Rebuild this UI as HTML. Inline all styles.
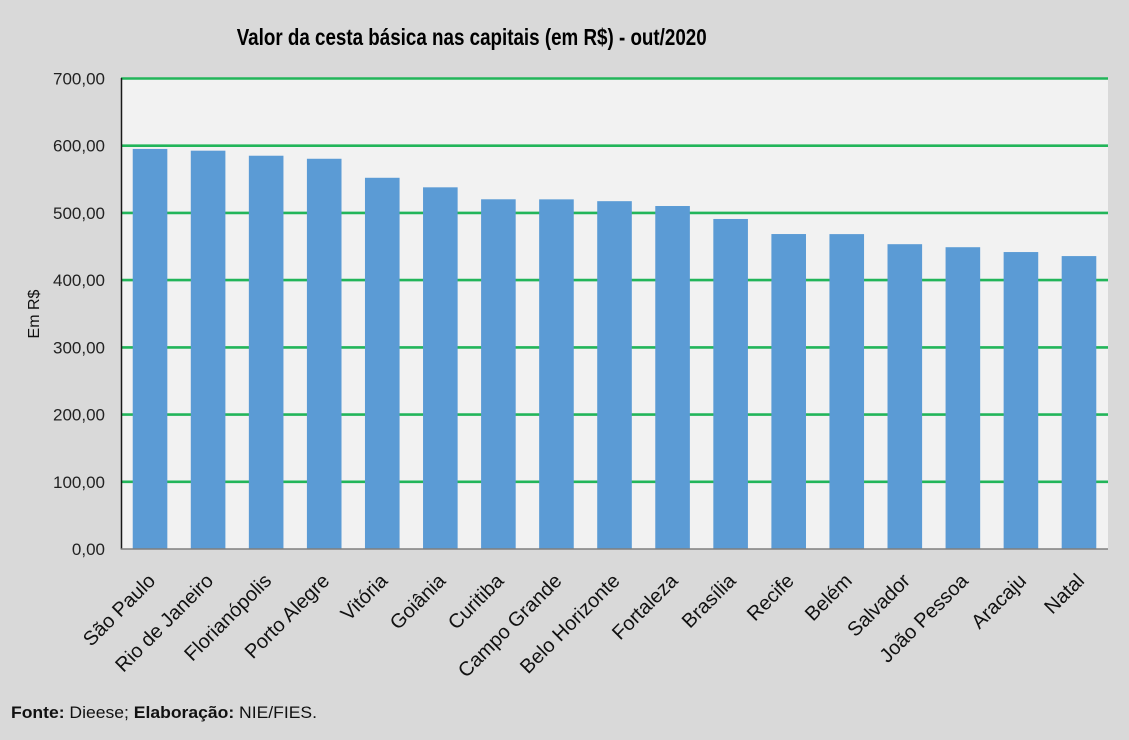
<!DOCTYPE html>
<html>
<head>
<meta charset="utf-8">
<style>
  html,body{margin:0;padding:0;background:#d9d9d9;}
  svg{display:block;}
  text{font-family:"Liberation Sans",Arial,sans-serif;}
</style>
</head>
<body>
<svg width="1129" height="740" viewBox="0 0 1129 740" xmlns="http://www.w3.org/2000/svg">
  <rect x="0" y="0" width="1129" height="740" fill="#d9d9d9"/>
  <!-- title -->
  <text x="236.7" y="45" font-size="23" font-weight="bold" fill="#000" textLength="470" lengthAdjust="spacingAndGlyphs">Valor da cesta básica nas capitais (em R$) - out/2020</text>

  <!-- plot area -->
  <rect x="121" y="78.5" width="987" height="470.5" fill="#f2f2f2"/>

  <!-- gridlines -->
  <g stroke="#22b55a" stroke-width="2.6">
    <line x1="121" x2="1108" y1="78.5" y2="78.5"/>
    <line x1="121" x2="1108" y1="145.7" y2="145.7"/>
    <line x1="121" x2="1108" y1="212.9" y2="212.9"/>
    <line x1="121" x2="1108" y1="280.1" y2="280.1"/>
    <line x1="121" x2="1108" y1="347.4" y2="347.4"/>
    <line x1="121" x2="1108" y1="414.6" y2="414.6"/>
    <line x1="121" x2="1108" y1="481.8" y2="481.8"/>
  </g>

  <!-- bars -->
  <g fill="#5b9bd5">
    <rect x="132.73" y="148.94" width="34.6" height="400.06"/>
    <rect x="190.79" y="150.69" width="34.6" height="398.31"/>
    <rect x="248.85" y="155.73" width="34.6" height="393.27"/>
    <rect x="306.91" y="158.76" width="34.6" height="390.24"/>
    <rect x="364.97" y="177.78" width="34.6" height="371.22"/>
    <rect x="423.03" y="187.32" width="34.6" height="361.68"/>
    <rect x="481.09" y="199.29" width="34.6" height="349.71"/>
    <rect x="539.15" y="199.35" width="34.6" height="349.65"/>
    <rect x="597.21" y="201.17" width="34.6" height="347.83"/>
    <rect x="655.27" y="206.01" width="34.6" height="342.99"/>
    <rect x="713.33" y="218.98" width="34.6" height="330.02"/>
    <rect x="771.39" y="234.04" width="34.6" height="314.96"/>
    <rect x="829.45" y="234.11" width="34.6" height="314.89"/>
    <rect x="887.51" y="244.19" width="34.6" height="304.81"/>
    <rect x="945.57" y="247.21" width="34.6" height="301.79"/>
    <rect x="1003.63" y="252.05" width="34.6" height="296.95"/>
    <rect x="1061.69" y="256.08" width="34.6" height="292.92"/>
  </g>

  <!-- axes -->
  <line x1="121.5" y1="78" x2="121.5" y2="549.5" stroke="#1a1a1a" stroke-width="1.5"/>
  <line x1="121" y1="549" x2="1108" y2="549" stroke="#7f7f7f" stroke-width="1.5"/>

  <!-- y tick labels -->
  <g font-size="17" fill="#222" text-anchor="end">
    <text x="105" y="84.5">700,00</text>
    <text x="105" y="151.7">600,00</text>
    <text x="105" y="218.9">500,00</text>
    <text x="105" y="286.1">400,00</text>
    <text x="105" y="353.4">300,00</text>
    <text x="105" y="420.6">200,00</text>
    <text x="105" y="487.8">100,00</text>
    <text x="105" y="555">0,00</text>
  </g>

  <!-- y axis title -->
  <text x="0" y="0" font-size="16" fill="#111" text-anchor="middle" transform="translate(39,314) rotate(-90)">Em R$</text>

  <!-- category labels -->
  <g font-size="20" fill="#111" text-anchor="end">
    <text transform="translate(151.5,577) rotate(-45)" dy="0.35em">São Paulo</text>
    <text transform="translate(209.6,577) rotate(-45)" dy="0.35em">Rio de Janeiro</text>
    <text transform="translate(267.6,577) rotate(-45)" dy="0.35em">Florianópolis</text>
    <text transform="translate(325.7,577) rotate(-45)" dy="0.35em">Porto Alegre</text>
    <text transform="translate(383.8,577) rotate(-45)" dy="0.35em">Vitória</text>
    <text transform="translate(441.8,577) rotate(-45)" dy="0.35em">Goiânia</text>
    <text transform="translate(499.9,577) rotate(-45)" dy="0.35em">Curitiba</text>
    <text transform="translate(557.9,577) rotate(-45)" dy="0.35em">Campo Grande</text>
    <text transform="translate(616.0,577) rotate(-45)" dy="0.35em">Belo Horizonte</text>
    <text transform="translate(674.1,577) rotate(-45)" dy="0.35em">Fortaleza</text>
    <text transform="translate(732.1,577) rotate(-45)" dy="0.35em">Brasília</text>
    <text transform="translate(790.2,577) rotate(-45)" dy="0.35em">Recife</text>
    <text transform="translate(848.2,577) rotate(-45)" dy="0.35em">Belém</text>
    <text transform="translate(906.3,577) rotate(-45)" dy="0.35em">Salvador</text>
    <text transform="translate(964.4,577) rotate(-45)" dy="0.35em">João Pessoa</text>
    <text transform="translate(1022.4,577) rotate(-45)" dy="0.35em">Aracaju</text>
    <text transform="translate(1080.5,577) rotate(-45)" dy="0.35em">Natal</text>
  </g>

  <!-- footer -->
  <text x="11" y="718" font-size="17" fill="#111" textLength="306" lengthAdjust="spacingAndGlyphs"><tspan font-weight="bold">Fonte:</tspan> Dieese; <tspan font-weight="bold">Elaboração:</tspan> NIE/FIES.</text>
</svg>
</body>
</html>
